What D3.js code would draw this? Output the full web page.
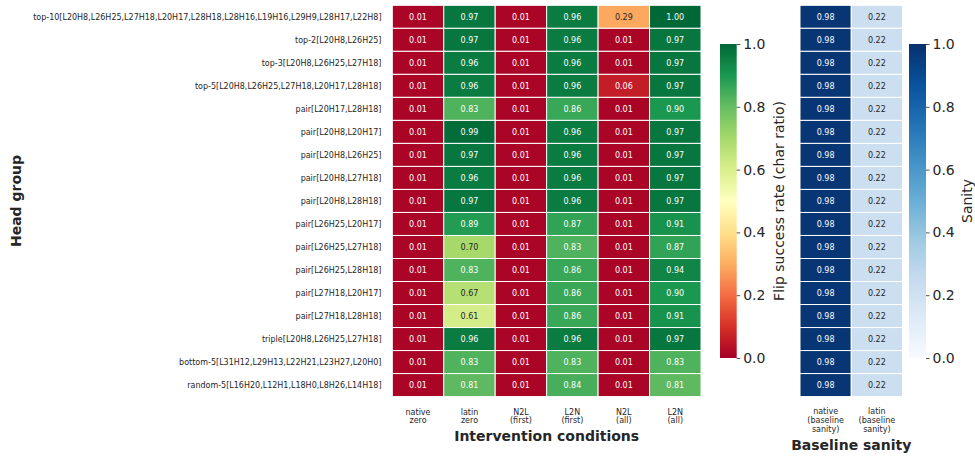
<!DOCTYPE html>
<html><head><meta charset="utf-8">
<script src="https://cdn.jsdelivr.net/npm/d3@7"></script>
<style>
html,body{margin:0;padding:0;background:#fff;}
svg{display:block;font-family:"DejaVu Sans",sans-serif;}
</style></head>
<body>
<svg id="chart" width="975" height="457"></svg>
<script>
// ---------- data ----------
const rowLabels = [
  "top-10[L20H8,L26H25,L27H18,L20H17,L28H18,L28H16,L19H16,L29H9,L28H17,L22H8]",
  "top-2[L20H8,L26H25]",
  "top-3[L20H8,L26H25,L27H18]",
  "top-5[L20H8,L26H25,L27H18,L20H17,L28H18]",
  "pair[L20H17,L28H18]",
  "pair[L20H8,L20H17]",
  "pair[L20H8,L26H25]",
  "pair[L20H8,L27H18]",
  "pair[L20H8,L28H18]",
  "pair[L26H25,L20H17]",
  "pair[L26H25,L27H18]",
  "pair[L26H25,L28H18]",
  "pair[L27H18,L20H17]",
  "pair[L27H18,L28H18]",
  "triple[L20H8,L26H25,L27H18]",
  "bottom-5[L31H12,L29H13,L22H21,L23H27,L20H0]",
  "random-5[L16H20,L12H1,L18H0,L8H26,L14H18]"
];
const conditions = ["native\nzero","latin\nzero","N2L\n(first)","L2N\n(first)","N2L\n(all)","L2N\n(all)"];
const nativeZero = [0.01,0.01,0.01,0.01,0.01,0.01,0.01,0.01,0.01,0.01,0.01,0.01,0.01,0.01,0.01,0.01,0.01];
const latinZero  = [0.97,0.97,0.96,0.96,0.83,0.99,0.97,0.96,0.97,0.89,0.70,0.83,0.67,0.61,0.96,0.83,0.81];
const n2lFirst   = [0.01,0.01,0.01,0.01,0.01,0.01,0.01,0.01,0.01,0.01,0.01,0.01,0.01,0.01,0.01,0.01,0.01];
const l2nFirst   = [0.96,0.96,0.96,0.96,0.86,0.96,0.96,0.96,0.96,0.87,0.83,0.86,0.86,0.86,0.96,0.83,0.84];
const n2lAll     = [0.29,0.01,0.01,0.06,0.01,0.01,0.01,0.01,0.01,0.01,0.01,0.01,0.01,0.01,0.01,0.01,0.01];
const l2nAll     = [1.00,0.97,0.97,0.97,0.90,0.97,0.97,0.97,0.97,0.91,0.87,0.94,0.90,0.91,0.97,0.83,0.81];
const sanityConds = ["native\n(baseline\nsanity)","latin\n(baseline\nsanity)"];
const nativeSanity = [0.98,0.98,0.98,0.98,0.98,0.98,0.98,0.98,0.98,0.98,0.98,0.98,0.98,0.98,0.98,0.98,0.98];
const latinSanity  = [0.22,0.22,0.22,0.22,0.22,0.22,0.22,0.22,0.22,0.22,0.22,0.22,0.22,0.22,0.22,0.22,0.22];
const cbTicks = [0,0.2,0.4,0.6,0.8,1.0];

const mainSeries = [nativeZero,latinZero,n2lFirst,l2nFirst,n2lAll,l2nAll];
const sanitySeries = [nativeSanity,latinSanity];

// ---------- colormaps (matplotlib style linear segmented) ----------
const rdylgn = ["#a50026","#d73027","#f46d43","#fdae61","#fee08b","#ffffbf","#d9ef8b","#a6d96a","#66bd63","#1a9850","#006837"];
const blues = ["#f7fbff","#deebf7","#c6dbef","#9ecae1","#6baed6","#4292c6","#2171b5","#08519c","#08306b"];
function cmap(colors){
  return d3.scaleLinear().domain(colors.map((c,i)=>i/(colors.length-1))).range(colors).interpolate(d3.interpolateRgb).clamp(true);
}
const flipColor = cmap(rdylgn);
const sanColor = cmap(blues);
function lum(c){
  const r = d3.rgb(c);
  const f = v => { v/=255; return v<=0.03928 ? v/12.92 : Math.pow((v+0.055)/1.055,2.4); };
  return 0.2126*f(r.r)+0.7152*f(r.g)+0.0722*f(r.b);
}
const TXT = "#262626";

const svg = d3.select("#chart");

// ---------- scales ----------
const y = d3.scaleBand().domain(rowLabels).range([5.3,396.6]).padding(0);
const xMain = d3.scaleBand().domain(conditions).range([392.3,701]).padding(0);
const xSan = d3.scaleBand().domain(sanityConds).range([800,902.5]).padding(0);

function heat(g, xs, cols, series, color){
  cols.forEach((c,ci)=>{
    series[ci].forEach((v,ri)=>{
      const fill = color(v);
      g.append("rect")
        .attr("x",xs(c)).attr("y",y(rowLabels[ri]))
        .attr("width",xs.bandwidth()).attr("height",y.bandwidth())
        .attr("fill",fill).attr("stroke","#fff").attr("stroke-width",1);
      g.append("text")
        .attr("x",xs(c)+xs.bandwidth()/2).attr("y",y(rowLabels[ri])+y.bandwidth()/2)
        .attr("dy","0.35em").attr("text-anchor","middle")
        .attr("font-size",8)
        .attr("fill", lum(fill)>0.408 ? TXT : "#fff")
        .text(v.toFixed(2));
    });
  });
}
heat(svg.append("g"), xMain, conditions, mainSeries, flipColor);
heat(svg.append("g"), xSan, sanityConds, sanitySeries, sanColor);

// row labels
svg.append("g").selectAll("text").data(rowLabels).join("text")
  .attr("x",381.5).attr("y",d=>y(d)+y.bandwidth()/2).attr("dy","0.35em")
  .attr("text-anchor","end").attr("font-size",8).attr("fill",TXT).text(d=>d);

// x tick labels
function xLabels(xs, cols, y0){
  cols.forEach(c=>{
    const lines = c.split("\n");
    const t = svg.append("text").attr("text-anchor","middle").attr("font-size",8).attr("fill",TXT);
    lines.forEach((l,i)=>{
      t.append("tspan").attr("x",xs(c)+xs.bandwidth()/2).attr("y",y0+i*8.8).text(l);
    });
  });
}
xLabels(xMain, conditions, 414.5);
xLabels(xSan, sanityConds, 414);

// axis titles
svg.append("text").attr("x",(392.3+701)/2).attr("y",440.5).attr("text-anchor","middle")
  .attr("font-size",14).attr("font-weight","bold").attr("fill",TXT).text("Intervention conditions");
svg.append("text").attr("x",(800+902.5)/2).attr("y",450).attr("text-anchor","middle")
  .attr("font-size",14).attr("font-weight","bold").attr("fill",TXT).text("Baseline sanity");
svg.append("text").attr("transform","translate(21,201) rotate(-90)").attr("text-anchor","middle")
  .attr("font-size",14).attr("font-weight","bold").attr("fill",TXT).text("Head group");

// ---------- colorbars ----------
const defs = svg.append("defs");
function colorbar(id, color, x0, w, title, titleX){
  const cbY = d3.scaleLinear().domain([0,1]).range([358,44]);
  const grad = defs.append("linearGradient").attr("id",id)
    .attr("x1","0").attr("y1","1").attr("x2","0").attr("y2","0");
  d3.range(0,1.0001,0.02).forEach(t=>{
    grad.append("stop").attr("offset",t).attr("stop-color",color(t));
  });
  svg.append("rect").attr("x",x0).attr("y",cbY(1)).attr("width",w).attr("height",cbY(0)-cbY(1))
    .attr("fill",`url(#${id})`);
  const ax = svg.append("g").attr("transform",`translate(${x0+w},0)`)
    .call(d3.axisRight(cbY).tickValues(cbTicks).tickFormat(d3.format(".1f")).tickSize(3.5).tickPadding(3));
  ax.select(".domain").remove();
  ax.selectAll("line").attr("stroke",TXT).attr("stroke-width",0.8);
  ax.selectAll("text").attr("font-size",14).attr("fill",TXT).attr("font-family","DejaVu Sans, sans-serif");
  svg.append("text").attr("transform",`translate(${titleX},${(44+358)/2}) rotate(-90)`)
    .attr("text-anchor","middle").attr("dy","0.35em").attr("font-size",14).attr("fill",TXT).text(title);
}
colorbar("gFlip", flipColor, 720, 16.7, "Flip success rate (char ratio)", 779);
colorbar("gSan", sanColor, 909, 17, "Sanity", 967);
</script>
</body></html>
